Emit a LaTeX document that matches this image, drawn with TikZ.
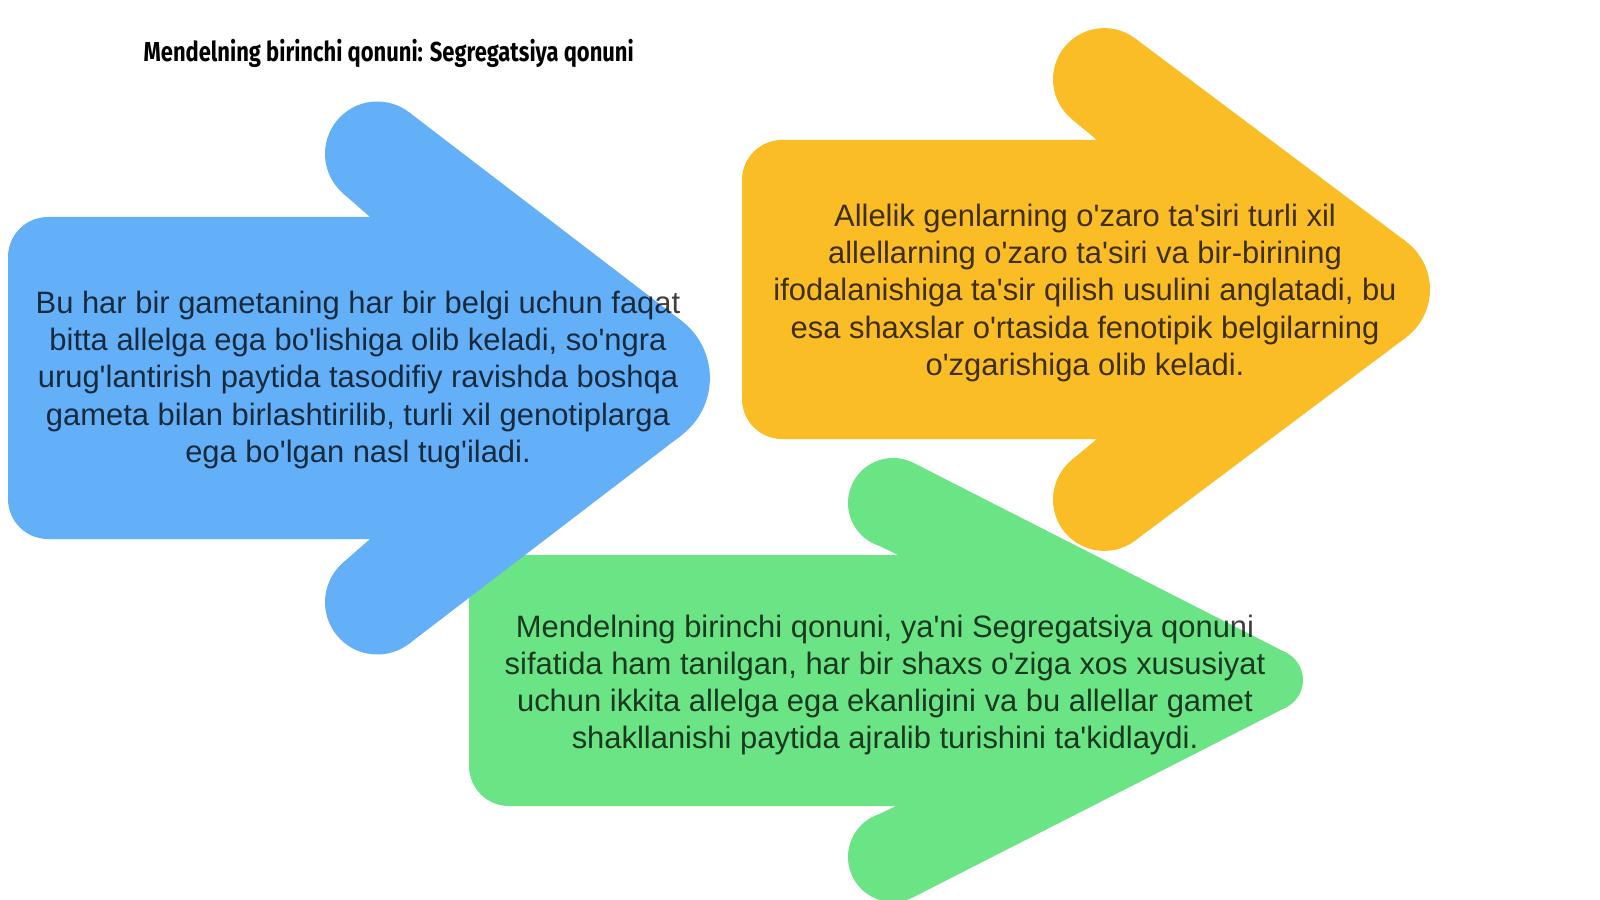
\documentclass[tikz,border=0pt]{standalone}
\usepackage{fontspec}
\setmainfont{Liberation Sans}
\newfontfamily\titlefont[FakeStretch=0.80]{Fira Sans}
\newcommand\apo{\textquotesingle}
\definecolor{arrblue}{RGB}{99,175,248}
\definecolor{arrorange}{RGB}{251,189,38}
\definecolor{arrgreen}{RGB}{106,228,132}

\begin{document}
\begin{tikzpicture}[x=0.1mm,y=-0.1mm]
        \tikzstyle{every node}=[inner sep=0pt, align=center, text=black, text opacity=0.75, font=\fontsize{8.8}{10.6}\selectfont]
        \tikzstyle{body}=[rounded corners=4mm]
        \useasboundingbox (0,0) rectangle (1600,900);
        % green arrow (lowest layer)
        \fill[arrgreen, body] (469,555) rectangle (940,806);
        \fill[arrgreen] (898,555) -- (867.7,540.2) -- (914.1,463.2) -- (1286.8,653.0) -- (1286.8,707.0) -- (914.1,896.8) -- (867.7,819.8) -- (898,805) -- cycle;
        \fill[arrgreen] (893,503) circle[radius=4.5mm] (1272.5,680) circle[radius=3.05mm] (893,857) circle[radius=4.5mm];
        % blue arrow
        \fill[arrblue, body] (8,217) rectangle (420,539);
        \fill[arrblue] (370,217) -- (342.8,193.1) -- (409.1,112.3) -- (681.7,320.9) -- (681.7,435.1) -- (409.1,643.7) -- (342.8,562.9) -- (370,539) -- cycle;
        \fill[arrblue] (377.3,153.8) circle[radius=5.23mm] (638,378) circle[radius=7.19mm] (377.3,602.2) circle[radius=5.23mm];
        % orange arrow
        \fill[arrorange, body] (742,140) rectangle (1140,439);
        \fill[arrorange] (1097,140) -- (1071.5,118.9) -- (1135.1,38.4) -- (1406,241.5) -- (1406,337.5) -- (1135.1,540.6) -- (1071.5,460.1) -- (1097,439) -- cycle;
        \fill[arrorange] (1104.3,79.4) circle[radius=5.13mm] (1370,289.5) circle[radius=6mm] (1104.3,499.6) circle[radius=5.13mm];
        % texts
        \node (title) [anchor=base west, text opacity=1, font=\titlefont\bfseries\fontsize{7.8}{9}\selectfont] at (143,62) {Mendelning birinchi qonuni: Segregatsiya qonuni};
        \node (txtBlue) at (358,380) {Bu har bir gametaning har bir belgi uchun faqat\\bitta allelga ega bo\apo lishiga olib keladi, so\apo ngra\\urug\apo lantirish paytida tasodifiy ravishda boshqa\\gameta bilan birlashtirilib, turli xil genotiplarga\\ega bo\apo lgan nasl tug\apo iladi.};
        \node (txtOrange) at (1085,293) {Allelik genlarning o\apo zaro ta\apo siri turli xil\\allellarning o\apo zaro ta\apo siri va bir-birining\\ifodalanishiga ta\apo sir qilish usulini anglatadi, bu\\esa shaxslar o\apo rtasida fenotipik belgilarning\\o\apo zgarishiga olib keladi.};
        \node (txtGreen) at (885,685) {Mendelning birinchi qonuni, ya\apo ni Segregatsiya qonuni\\sifatida ham tanilgan, har bir shaxs o\apo ziga xos xususiyat\\uchun ikkita allelga ega ekanligini va bu allellar gamet\\shakllanishi paytida ajralib turishini ta\apo kidlaydi.};
\end{tikzpicture}
\end{document}
